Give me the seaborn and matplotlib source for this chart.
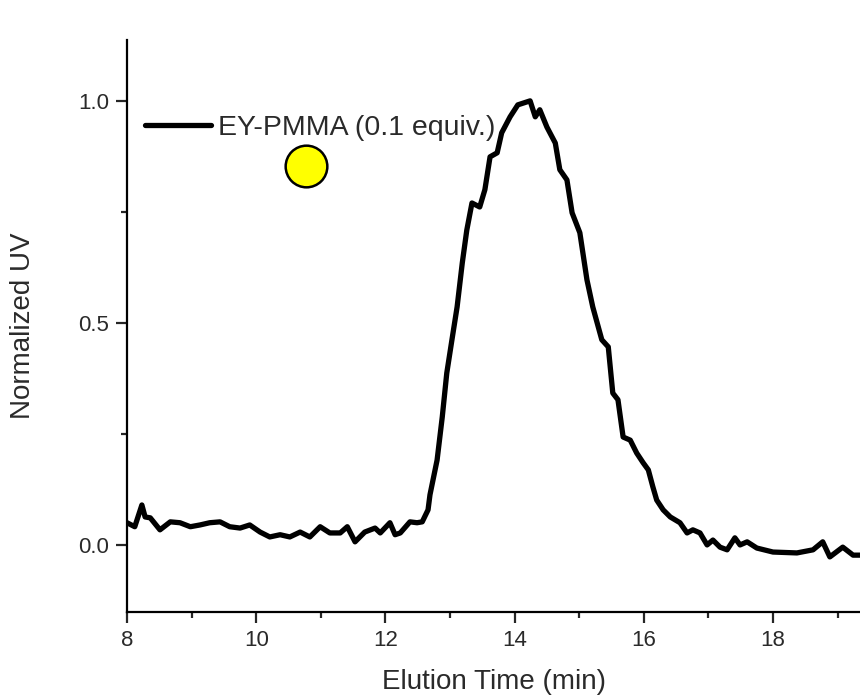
import matplotlib
matplotlib.use("Agg")
import matplotlib.pyplot as plt
import seaborn as sns
import pandas as pd
from matplotlib.ticker import MultipleLocator, FormatStrFormatter
from matplotlib.lines import Line2D

# Elution time (min) and normalized UV signal
elution_time = [
    8.00, 8.12, 8.23, 8.28, 8.36, 8.51, 8.67, 8.82, 8.98, 9.13, 9.28, 9.44,
    9.59, 9.75, 9.90, 10.06, 10.21, 10.37, 10.52, 10.68, 10.83, 10.99, 11.14,
    11.30, 11.41, 11.53, 11.68, 11.84, 11.92, 12.07, 12.15, 12.23, 12.38,
    12.49, 12.57, 12.66, 12.69, 12.80, 12.88, 12.95, 13.03, 13.11, 13.19,
    13.26, 13.34, 13.46, 13.54, 13.62, 13.73, 13.80, 13.93, 14.05, 14.24,
    14.32, 14.39, 14.50, 14.63, 14.70, 14.81, 14.89, 15.01, 15.12, 15.21,
    15.35, 15.45, 15.52, 15.60, 15.68, 15.79, 15.89, 15.99, 16.07, 16.14,
    16.20, 16.30, 16.41, 16.56, 16.67, 16.76, 16.87, 16.98, 17.07, 17.18,
    17.29, 17.41, 17.49, 17.60, 17.75, 18.00, 18.37, 18.62, 18.77, 18.88,
    19.08, 19.24, 19.35,
]
normalized_uv = [
    0.050, 0.041, 0.090, 0.063, 0.061, 0.034, 0.052, 0.050, 0.041, 0.045,
    0.050, 0.052, 0.041, 0.038, 0.045, 0.029, 0.018, 0.023, 0.018, 0.029,
    0.018, 0.041, 0.027, 0.027, 0.041, 0.007, 0.029, 0.038, 0.027, 0.050,
    0.023, 0.027, 0.052, 0.050, 0.052, 0.079, 0.113, 0.191, 0.288, 0.387,
    0.462, 0.536, 0.635, 0.709, 0.770, 0.761, 0.800, 0.874, 0.883, 0.928,
    0.964, 0.991, 1.000, 0.964, 0.980, 0.941, 0.905, 0.845, 0.822, 0.748,
    0.703, 0.597, 0.536, 0.462, 0.446, 0.342, 0.327, 0.243, 0.236, 0.207,
    0.185, 0.169, 0.131, 0.101, 0.079, 0.063, 0.050, 0.027, 0.034, 0.027,
    0.000, 0.011, -0.005, -0.011, 0.016, 0.000, 0.007, -0.007, -0.016,
    -0.018, -0.011, 0.007, -0.027, -0.005, -0.023, -0.023,
]
series_label = "EY-PMMA (0.1 equiv.)"
x_label = "Elution Time (min)"
y_label = "Normalized UV"

df = pd.DataFrame({"t": elution_time, "uv": normalized_uv})

sns.set_style("ticks")
plt.rcParams["font.family"] = ["Liberation Sans", "DejaVu Sans"]

fig = plt.figure(figsize=(8.6, 6.96), dpi=100)
ax = fig.add_axes([0.1477, 0.1207, 0.8523, 0.8218])

sns.lineplot(data=df, x="t", y="uv", ax=ax, color="black", linewidth=3.8,
             sort=False, legend=False)

ax.set_xlim(8, 19.347)
ax.set_ylim(-0.151, 1.137)
ax.xaxis.set_major_locator(MultipleLocator(2))
ax.xaxis.set_minor_locator(MultipleLocator(1))
ax.yaxis.set_major_locator(MultipleLocator(0.5))
ax.yaxis.set_minor_locator(MultipleLocator(0.25))
ax.xaxis.set_major_formatter(FormatStrFormatter("%d"))
ax.yaxis.set_major_formatter(FormatStrFormatter("%.1f"))

for s in ["top", "right"]:
    ax.spines[s].set_visible(False)
for s in ["left", "bottom"]:
    ax.spines[s].set_linewidth(1.6)
    ax.spines[s].set_color("black")

ax.tick_params(which="major", direction="out", length=8, width=1.6,
               labelsize=16, labelcolor="#2a2a2a", pad=5)
ax.tick_params(which="minor", direction="out", length=4, width=1.6)

ax.set_xlabel(x_label, fontsize=20, color="#2a2a2a", labelpad=13)
ax.set_ylabel(y_label, fontsize=20, color="#2a2a2a", labelpad=30)

handle = Line2D([], [], color="black", linewidth=3.8)
ax.legend([handle], [series_label], loc="center left",
          bbox_to_anchor=(0.0246, 0.846), frameon=False, fontsize=20.5,
          handlelength=2.3, handletextpad=0.25, borderpad=0,
          borderaxespad=0, labelcolor="#2a2a2a")

# decorative yellow dot below the legend
ax.scatter([0.244], [0.780], transform=ax.transAxes, s=900, c="#ffff00",
           edgecolors="black", linewidths=1.8, zorder=5, clip_on=False)

fig.savefig("out.png", dpi=100)
